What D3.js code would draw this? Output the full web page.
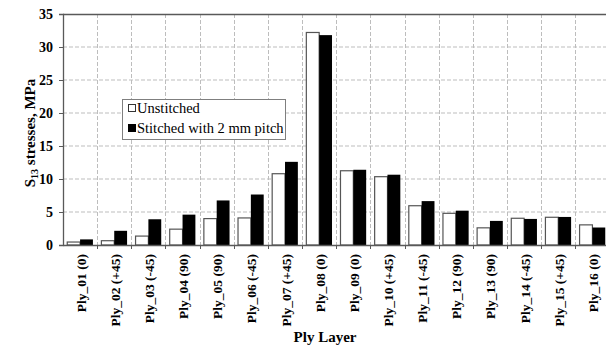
<!DOCTYPE html>
<html><head><meta charset="utf-8">
<script src="https://cdn.jsdelivr.net/npm/d3@7"></script>
<style>body{margin:0;background:#fff;} svg{display:block;} svg text{font-family:"Liberation Serif","Times New Roman",Times,serif;}</style>
</head><body>
<svg id="c" width="606" height="346"></svg>
<script>
const categories = ["Ply_01 (0)","Ply_02 (+45)","Ply_03 (-45)","Ply_04 (90)","Ply_05 (90)","Ply_06 (-45)","Ply_07 (+45)","Ply_08 (0)","Ply_09 (0)","Ply_10 (+45)","Ply_11 (-45)","Ply_12 (90)","Ply_13 (90)","Ply_14 (-45)","Ply_15 (+45)","Ply_16 (0)"];
const unstitched = [0.45,0.65,1.35,2.4,4.0,4.1,10.8,32.2,11.25,10.35,5.95,4.8,2.6,4.05,4.2,3.05];
const stitched   = [0.85,2.15,3.9,4.6,6.75,7.65,12.6,31.8,11.4,10.65,6.65,5.2,3.65,3.95,4.25,2.65];
const seriesNames = ["Unstitched","Stitched with 2 mm pitch"];
const yTicks = [0,5,10,15,20,25,30,35];

const svg = d3.select("#c");
const L = 63, R = 609.5, T = 14, B = 245;

const x = d3.scaleBand().domain(categories).range([L, R]).paddingInner(0).paddingOuter(0);
const y = d3.scaleLinear().domain([0, 35]).range([B, T]);
const xs = d3.scaleBand().domain([0,1]).range([0, x.bandwidth()]).paddingInner(0).paddingOuter(0.33);

const gridColor = "#bdbdbd";
svg.append("g").selectAll("line").data(yTicks.filter(d => d > 0 && d < 35)).join("line")
  .attr("x1", L).attr("x2", R).attr("y1", d => y(d)).attr("y2", d => y(d))
  .attr("stroke", gridColor).attr("stroke-dasharray", "4,2").attr("stroke-width", 1);
svg.append("g").selectAll("line").data(categories.slice(1)).join("line")
  .attr("x1", d => Math.round(x(d)) + 0.5).attr("x2", d => Math.round(x(d)) + 0.5)
  .attr("y1", T).attr("y2", B)
  .attr("stroke", gridColor).attr("stroke-dasharray", "4,2").attr("stroke-width", 1);

const g = svg.append("g");
categories.forEach((c, i) => {
  g.append("rect")
    .attr("x", x(c) + xs(0)).attr("width", xs.bandwidth())
    .attr("y", y(unstitched[i])).attr("height", y(0) - y(unstitched[i]))
    .attr("fill", "#fff").attr("stroke", "#555").attr("stroke-width", 1.2);
  g.append("rect")
    .attr("x", x(c) + xs(1)).attr("width", xs.bandwidth())
    .attr("y", y(stitched[i])).attr("height", y(0) - y(stitched[i]))
    .attr("fill", "#000");
});

const axisColor = "#595959";
svg.append("line").attr("x1", L).attr("x2", R).attr("y1", T + 0.5).attr("y2", T + 0.5)
  .attr("stroke", axisColor).attr("stroke-width", 1.3);

const yAxis = svg.append("g").attr("transform", `translate(${L},0)`)
  .call(d3.axisLeft(y).tickValues(yTicks).tickSize(4).tickPadding(6).tickFormat(d3.format("d")));
yAxis.attr("font-family", null);
yAxis.select(".domain").attr("stroke", axisColor).attr("stroke-width", 1.3);
yAxis.selectAll(".tick line").attr("stroke", axisColor);
yAxis.selectAll("text").attr("font-weight", "bold").attr("font-size", 14).attr("fill", "#000");

const xAxis = svg.append("g").attr("transform", `translate(0,${B})`)
  .call(d3.axisBottom(x).tickSize(0).tickFormat(""));
xAxis.select(".domain").attr("stroke", axisColor).attr("stroke-width", 1.3);
svg.append("g").selectAll("line").data(categories.slice(1)).join("line")
  .attr("x1", d => Math.round(x(d)) + 0.5).attr("x2", d => Math.round(x(d)) + 0.5)
  .attr("y1", B).attr("y2", B + 4).attr("stroke", axisColor);

svg.append("g").selectAll("text").data(categories).join("text")
  .attr("transform", d => `translate(${x(d) + x.bandwidth()/2 + 5.5},${B + 9}) rotate(-90)`)
  .attr("text-anchor", "end")
  .attr("font-weight", "bold").attr("font-size", 13.5)
  .text(d => d);

svg.append("text").attr("x", 325).attr("y", 342).attr("text-anchor", "middle")
  .attr("font-weight", "bold").attr("font-size", 15).text("Ply Layer");

const yt = svg.append("text").attr("transform", "translate(35,133) rotate(-90)")
  .attr("text-anchor", "middle").attr("font-weight", "bold").attr("font-size", 15);
yt.append("tspan").text("S");
yt.append("tspan").attr("font-size", 10).attr("dy", 3).text("13");
yt.append("tspan").attr("dy", -3).text(" stresses, MPa");

const lg = svg.append("g");
lg.append("rect").attr("x", 122.5).attr("y", 99.5).attr("width", 163).attr("height", 40)
  .attr("fill", "#fff").attr("stroke", "#7f7f7f");
[0,1].forEach(i => {
  const yy = 113 + i * 20;
  lg.append("rect").attr("x", 128.5).attr("y", yy - 8.5).attr("width", 7).attr("height", 7)
    .attr("fill", i === 0 ? "#fff" : "#000").attr("stroke", i === 0 ? "#333" : "#000");
  lg.append("text").attr("x", 137).attr("y", yy).attr("font-size", 14.5)
    .text(seriesNames[i]);
});
</script>
</body></html>
